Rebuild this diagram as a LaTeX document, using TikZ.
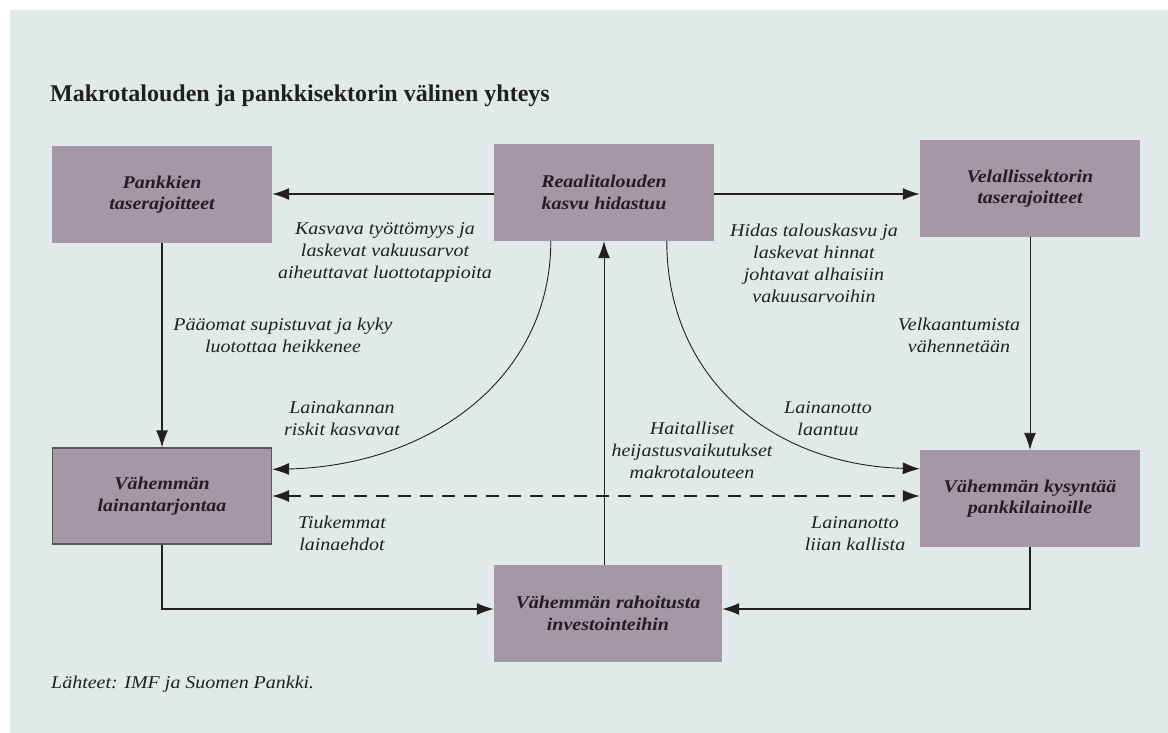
\documentclass[tikz,border=0pt]{standalone}
\usepackage{fontspec}
\setmainfont{Liberation Serif}
\newfontfamily\widefont{Liberation Serif}[FakeStretch=1.11]
\usetikzlibrary{arrows.meta,calc}
\definecolor{panel}{HTML}{E1EAE8}
\definecolor{boxfill}{HTML}{A697A7}
\definecolor{ink}{HTML}{231F20}
\begin{document}
\begin{tikzpicture}[x=1pt,y=-1pt,
  box/.style={fill=boxfill, minimum width=220pt, minimum height=97pt, inner sep=0pt,
    align=center, text=ink, font=\widefont\fontsize{18}{21.5}\selectfont\bfseries\itshape},
  lbl/.style={align=center, text=ink, inner sep=0pt, anchor=base,
    font=\widefont\fontsize{18}{22}\selectfont\itshape},
  tip/.style={-{Latex[length=17pt,width=12pt]}},
  arr/.style={draw=ink, line width=1.3pt, tip},
  thin/.style={draw=ink, line width=0.9pt, tip},
]
\useasboundingbox (0,0) rectangle (1168,733);
\fill[panel] (10,10) rectangle (1168,733);

% title
\node[anchor=base west, inner sep=0pt, text=ink, font=\fontsize{24}{28}\selectfont\bfseries]
  (title) at (50,102) {Makrotalouden ja pankkisektorin välinen yhteys};

% boxes
\node[box] (pank)  at (162,194.5) {Pankkien\\taserajoitteet};
\node[box] (reaal) at (604,192.5) {Reaalitalouden\\kasvu hidastuu};
\node[box] (velal) at (1030,188.5) {Velallissektorin\\taserajoitteet};
\node[box, draw=ink!75, line width=1.2pt, minimum width=219pt, minimum height=96pt]
  (lain)  at (162,496) {Vähemmän\\lainantarjontaa};
\node[box] (kys)   at (1030,498.5) {Vähemmän kysyntää\\pankkilainoille};
\node[box, minimum width=228pt] (rahoit) at (608,613.5) {Vähemmän rahoitusta\\investointeihin};

% helper rows for the straight connectors
\coordinate (rowA) at (0,194);
\coordinate (rowB) at (0,609);

% straight connectors
\draw[arr] (reaal.west |- rowA) -- (pank.east |- rowA);
\draw[arr] (reaal.east |- rowA) -- (velal.west |- rowA);
\draw[arr] (pank.south) -- (lain.north);
\draw[thin] (velal.south) -- (kys.north);
\draw[thin] (rahoit.north -| reaal.south) -- (reaal.south);
\draw[arr] (lain.south) |- (rahoit.west |- rowB);
\draw[arr] (kys.south) |- (rahoit.east |- rowB);
\draw[arr, {Latex[length=17pt,width=12pt]}-{Latex[length=17pt,width=12pt]}, dash pattern=on 13pt off 9pt]
  (lain.east) -- (kys.west |- lain.east);

% curved connectors
\coordinate (cl0) at ($(reaal.south west)+(57,0)$);
\coordinate (cr0) at ($(reaal.south west)+(173,0)$);
\coordinate (cl1) at ($(lain.north east)+(0,22)$);
\coordinate (cr1) at ($(kys.north west)+(0,19)$);
\draw[thin] (cl0) .. controls ($(cl0)+(0,137)$) and ($(cl1)+(158,-4)$) .. (cl1);
\draw[thin] (cr0) .. controls ($(cr0)+(0,137)$) and ($(cr1)+(-148,-4)$) .. (cr1);

% connector labels (positioned at the baseline of their last line)
\node[lbl] (l1) at (385,278) {Kasvava työttömyys ja\\laskevat vakuusarvot\\aiheuttavat luottotappioita};
\node[lbl] (l2) at (814,302) {Hidas talouskasvu ja\\laskevat hinnat\\johtavat alhaisiin\\vakuusarvoihin};
\node[lbl] (l3) at (283,352) {Pääomat supistuvat ja kyky\\luotottaa heikkenee};
\node[lbl] (l4) at (959,352) {Velkaantumista\\vähennetään};
\node[lbl] (l5) at (342,435) {Lainakannan\\riskit kasvavat};
\node[lbl] (l6) at (828,435) {Lainanotto\\laantuu};
\node[lbl] (l7) at (692,478) {Haitalliset\\heijastusvaikutukset\\makrotalouteen};
\node[lbl] (l8) at (342,550) {Tiukemmat\\lainaehdot};
\node[lbl] (l9) at (855,550) {Lainanotto\\liian kallista};

% source line
\node[anchor=base west, inner sep=0pt, text=ink, font=\widefont\fontsize{18}{22}\selectfont\itshape]
  (src) at (51,688) {Lähteet: IMF ja Suomen Pankki.};
\end{tikzpicture}
\end{document}
